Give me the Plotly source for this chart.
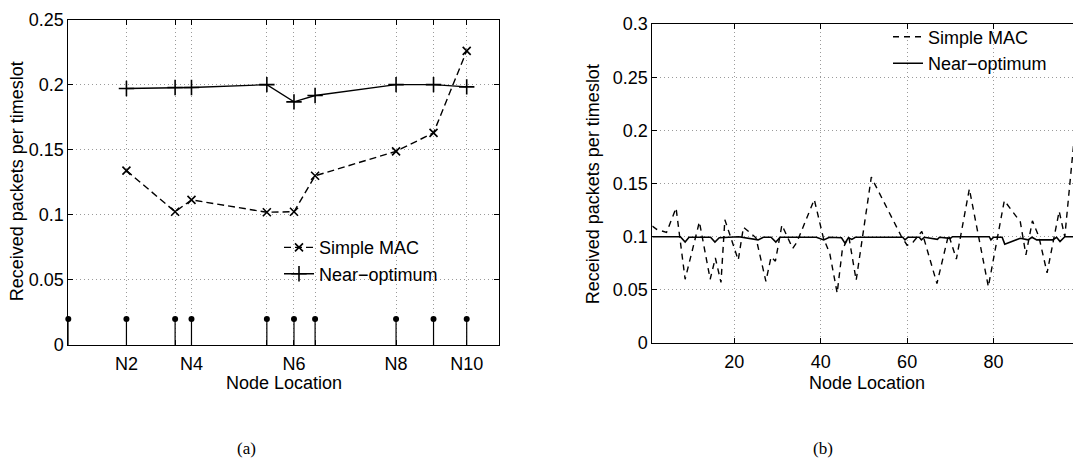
import plotly.graph_objects as go

W, H = 1073, 468

# ---------------- data: panel (a) ----------------
node_names = ["N1", "N2", "N3", "N4", "N5", "N6", "N7", "N8", "N9", "N10"]
node_pos = [0, 13.5, 24.8, 28.6, 46.1, 52.4, 57.3, 76.1, 84.8, 92.5]
node_tick_labels = ["", "N2", "", "N4", "", "N6", "", "N8", "", "N10"]
stem_height = [0.02, 0.02, 0.02, 0.02, 0.02, 0.02, 0.02, 0.02, 0.02, 0.02]
simple_mac_a = [None, 0.134, 0.1024, 0.1115, 0.102, 0.1024, 0.130, 0.1488, 0.163, 0.226]
near_opt_a = [None, 0.197, 0.1978, 0.1978, 0.200, 0.1868, 0.1917, 0.200, 0.200, 0.1983]
yticks_a = [0, 0.05, 0.1, 0.15, 0.2, 0.25]
yticklabels_a = ["0", "0.05", "0.1", "0.15", "0.2", "0.25"]

# ---------------- data: panel (b) ----------------
mac_b_x = [1, 2, 4.3, 6.5, 8.6, 11.9, 14.4, 15.6, 16.9, 17.8, 20.9, 22.1, 25, 27.3,
           28.5, 29.5, 31, 33.5, 34.5, 38.5, 40.6, 42.1, 43.8, 45.0, 46.5, 48.2,
           51.7, 58.7, 60, 61.4, 63.4, 66.9, 69.6, 71.4, 74.4, 78.8, 82.5, 86.2,
           87.5, 89.0, 90.5, 92.4, 95.2, 96.5, 98.5, 100]
mac_b_y = [0.110, 0.107, 0.104, 0.127, 0.060, 0.114, 0.060, 0.080, 0.057, 0.116,
           0.078, 0.109, 0.099, 0.058, 0.081, 0.077, 0.111, 0.089, 0.095, 0.135,
           0.099, 0.084, 0.047, 0.088, 0.100, 0.059, 0.156, 0.100, 0.092, 0.095,
           0.105, 0.056, 0.102, 0.079, 0.145, 0.053, 0.134, 0.114, 0.083, 0.115,
           0.100, 0.066, 0.124, 0.100, 0.185, 0.22]
opt_b_x = [1, 7.5, 8.6, 9.5, 14.5, 15.5, 16.5, 21, 25.5, 26.7, 28.5, 29.6, 30.6,
           39, 40.7, 42, 44.8, 45.6, 46.4, 47.2, 48, 59, 59.5, 60.2, 62.8, 63.3,
           64, 67, 67.5, 70, 70.5, 79, 79.4, 80, 82, 82.6, 86.2, 88, 88.9, 90,
           93.7, 94.6, 95.4, 96.5, 100]
opt_b_y = [0.100, 0.100, 0.095, 0.0995, 0.0995, 0.095, 0.099, 0.100, 0.097, 0.0995,
           0.0995, 0.095, 0.0995, 0.0995, 0.097, 0.0995, 0.099, 0.094, 0.099, 0.0975,
           0.0995, 0.0995, 0.097, 0.0995, 0.0995, 0.097, 0.0995, 0.0975, 0.0995, 0.0985,
           0.100, 0.100, 0.097, 0.0995, 0.0995, 0.093, 0.0985, 0.097, 0.0995, 0.097,
           0.097, 0.0995, 0.0955, 0.100, 0.100]
xticks_b = [20, 40, 60, 80]
yticks_b = [0, 0.05, 0.1, 0.15, 0.2, 0.25, 0.3]
yticklabels_b = ["0", "0.05", "0.1", "0.15", "0.2", "0.25", "0.3"]


def px(x):
    return x / W


def py(y):
    return 1 - y / H


FONT = "Liberation Sans, Arial, Helvetica, sans-serif"

fig = go.Figure()

# stems (panel a)
stem_x, stem_y = [], []
for p, h in zip(node_pos, stem_height):
    stem_x += [p, p, None]
    stem_y += [0, h, None]
fig.add_trace(go.Scatter(x=stem_x, y=stem_y, mode="lines", line=dict(color="black", width=1.2),
                         showlegend=False, xaxis="x", yaxis="y", hoverinfo="skip"))
fig.add_trace(go.Scatter(x=node_pos, y=stem_height, mode="markers",
                         marker=dict(symbol="circle", size=6, color="black"),
                         showlegend=False, xaxis="x", yaxis="y", cliponaxis=False,
                         text=node_names))

fig.add_trace(go.Scatter(x=node_pos[1:], y=simple_mac_a[1:], mode="lines+markers", name="Simple MAC",
                         line=dict(color="black", width=1.4, dash="7px,4px"),
                         marker=dict(symbol="x-thin", size=8, line=dict(color="black", width=1.6)),
                         xaxis="x", yaxis="y", legend="legend"))
fig.add_trace(go.Scatter(x=node_pos[1:], y=near_opt_a[1:], mode="lines+markers", name="Near\u2212optimum",
                         line=dict(color="black", width=1.4),
                         marker=dict(symbol="cross-thin", size=11, line=dict(color="black", width=1.6)),
                         xaxis="x", yaxis="y", legend="legend"))

# panel b
fig.add_trace(go.Scatter(x=mac_b_x, y=mac_b_y, mode="lines", name="Simple MAC",
                         line=dict(color="black", width=1.4, dash="6px,5px"),
                         xaxis="x2", yaxis="y2", legend="legend2"))
fig.add_trace(go.Scatter(x=opt_b_x, y=opt_b_y, mode="lines", name="Near\u2212optimum",
                         line=dict(color="black", width=1.6),
                         xaxis="x2", yaxis="y2", legend="legend2"))

axis_common = dict(showline=True, linecolor="black", linewidth=1, ticks="inside", ticklen=5,
                   tickcolor="black", showgrid=True, gridcolor="#9a9a9a", griddash="1px,3px",
                   gridwidth=1, zeroline=False, tickfont=dict(family=FONT, size=18, color="black"))

fig.update_layout(
    width=W, height=H, margin=dict(l=0, r=0, t=0, b=0),
    paper_bgcolor="white", plot_bgcolor="white",
    font=dict(family=FONT, size=18, color="black"),
    xaxis=dict(domain=[px(68.3), px(499)], range=[0, 100], tickvals=node_pos[1:],
               ticktext=node_tick_labels[1:], anchor="y", mirror="ticks",
               ticklabelstandoff=2, **axis_common),
    yaxis=dict(domain=[py(350), py(10)], range=[0, 0.25], tickvals=yticks_a,
               ticktext=yticklabels_a, anchor="x", mirror="ticks", **axis_common),
    xaxis2=dict(domain=[px(652.3), 1.0], range=[1, 98.4], tickvals=xticks_b,
                anchor="y2", mirror="ticks", ticklabelstandoff=2, **axis_common),
    yaxis2=dict(domain=[py(347.9), py(14.7)], range=[0, 0.3], tickvals=yticks_b,
                ticktext=yticklabels_b, anchor="x2", mirror=False, **axis_common),
    legend=dict(x=px(279), y=py(229), xanchor="left", yanchor="top", bgcolor="rgba(0,0,0,0)",
                borderwidth=0, font=dict(family=FONT, size=18), tracegroupgap=0),
    legend2=dict(x=px(888), y=py(9), xanchor="left", yanchor="top", bgcolor="rgba(0,0,0,0)",
                 borderwidth=0, font=dict(family=FONT, size=18), tracegroupgap=0),
    annotations=[
        dict(text="Received packets per timeslot", x=px(17), y=py(179), xref="paper", yref="paper",
             xanchor="center", yanchor="middle",
             textangle=-90, showarrow=False, font=dict(family=FONT, size=18)),
        dict(text="Node Location", x=px(284), y=py(390), xref="paper", yref="paper",
             xanchor="center", yanchor="middle",
             showarrow=False, font=dict(family=FONT, size=18)),
        dict(text="Received packets per timeslot", x=px(593), y=py(182), xref="paper", yref="paper",
             xanchor="center", yanchor="middle",
             textangle=-90, showarrow=False, font=dict(family=FONT, size=18)),
        dict(text="Node Location", x=px(867), y=py(390), xref="paper", yref="paper",
             xanchor="center", yanchor="middle",
             showarrow=False, font=dict(family=FONT, size=18)),
        dict(text="(a)", x=px(246), y=py(458), xref="paper", yref="paper",
             xanchor="center", yanchor="middle",
             showarrow=False, font=dict(family="Liberation Serif, serif", size=17)),
        dict(text="(b)", x=px(823), y=py(458), xref="paper", yref="paper",
             xanchor="center", yanchor="middle",
             showarrow=False, font=dict(family="Liberation Serif, serif", size=17)),
    ],
)

fig.write_html("out.html")
